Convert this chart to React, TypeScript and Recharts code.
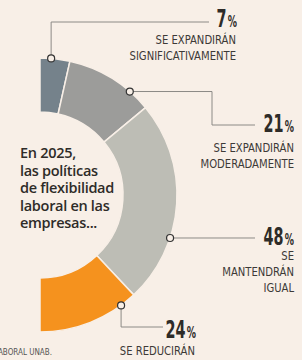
import React from 'react';
import { PieChart, Pie, Cell } from 'recharts';

const categories = ['SE EXPANDIRÁN SIGNIFICATIVAMENTE', 'SE EXPANDIRÁN MODERADAMENTE', 'SE MANTENDRÁN IGUAL', 'SE REDUCIRÁN'];
const values = [7, 21, 48, 24];
const labelLines = [
  ['SE EXPANDIRÁN', 'SIGNIFICATIVAMENTE'],
  ['SE EXPANDIRÁN', 'MODERADAMENTE'],
  ['SE', 'MANTENDRÁN', 'IGUAL'],
  ['SE REDUCIRÁN'],
];
const colors = ['#75828b', '#9c9c9a', '#bdbdb5', '#f5921e'];
const titleLines = ['En 2025,', 'las políticas', 'de flexibilidad', 'laboral en las', 'empresas...'];

const BG = '#f8efe7';
const NARROW = "'DejaVu Sans Condensed', 'Roboto', sans-serif";

// where the marker sits along each slice, and how the leader line runs to the text
const layout = [
  { frac: 0.37, route: [['y', 22], ['x', 209]], numX: 237, numY: 27, textX: 236, textY: [44, 60] },
  { frac: 0.75, route: [['x', 212], ['y', 125], ['x', 255]], numX: 294, numY: 132, textX: 294, textY: [152, 168] },
  { frac: 0.67, route: [['x', 255]], numX: 294, numY: 245, textX: 294, textY: [260, 276, 292] },
  { frac: 0.16, route: [['y', 327], ['x', 163]], numX: 196, numY: 338, textX: 195, textY: [355] },
];

const data = categories.map((name, i) => ({ name, value: values[i] }));

function renderLabel(props: any) {
  const { cx, cy, outerRadius, startAngle, endAngle, index } = props;
  const lay = layout[index];
  const ang = startAngle + lay.frac * (endAngle - startAngle);
  const rad = Math.PI / 180;
  const mx = cx + outerRadius * Math.cos(-ang * rad);
  const my = cy + outerRadius * Math.sin(-ang * rad);
  let px = mx;
  let py = my;
  const pts = [`${px},${py}`];
  lay.route.forEach(([axis, v]: any) => {
    if (axis === 'x') px = v;
    else py = v;
    pts.push(`${px},${py}`);
  });
  return (
    <g key={`lbl-${index}`}>
      <polyline points={pts.join(' ')} fill="none" stroke="#8c8a86" strokeWidth={1} />
      <circle cx={mx} cy={my} r={3.5} fill={BG} stroke="#333" strokeWidth={1.2} />
      <text
        transform={`translate(${lay.numX},${lay.numY}) scale(0.64,1)`}
        textAnchor="end"
        fontFamily={NARROW}
        fontWeight={700}
        fontSize={25}
        fill="#2e2b28"
      >
        {values[index]}
        <tspan fontSize={16} dx={2}>%</tspan>
      </text>
      {labelLines[index].map((t, j) => (
        <text
          key={j}
          transform={`translate(${lay.textX},${lay.textY[j]}) scale(0.86,1)`}
          textAnchor="end"
          fontFamily={NARROW}
          fontSize={13}
          fill="#3d3a37"
        >
          {t}
        </text>
      ))}
    </g>
  );
}

export default function App() {
  return (
    <div style={{ position: 'fixed', left: 0, top: 0, width: 302, height: 360, background: BG, overflow: 'hidden' }}>
      <PieChart width={302} height={360} margin={{ top: 0, right: 0, bottom: 0, left: 0 }}>
        <Pie
          data={data}
          dataKey="value"
          cx={40}
          cy={195}
          innerRadius={83}
          outerRadius={137}
          startAngle={90}
          endAngle={-90}
          stroke={BG}
          strokeWidth={1.5}
          label={renderLabel}
          labelLine={false}
          isAnimationActive={false}
        >
          {data.map((d, i) => (
            <Cell key={d.name} fill={colors[i]} />
          ))}
        </Pie>
      </PieChart>
      <div
        style={{
          position: 'absolute',
          left: 20,
          top: 144,
          fontFamily: "'Open Sans', sans-serif",
          fontWeight: 600,
          fontSize: 14.5,
          lineHeight: '17.5px',
          color: '#2e2b28',
          letterSpacing: -0.3,
        }}
      >
        {titleLines.map((t) => (
          <div key={t}>{t}</div>
        ))}
      </div>
      <div
        style={{
          position: 'absolute',
          right: 250,
          top: 348,
          whiteSpace: 'nowrap',
          fontFamily: NARROW,
          fontSize: 8,
          color: '#555',
        }}
      >
        FUENTE: OBSERVATORIO LABORAL UNAB.
      </div>
    </div>
  );
}
